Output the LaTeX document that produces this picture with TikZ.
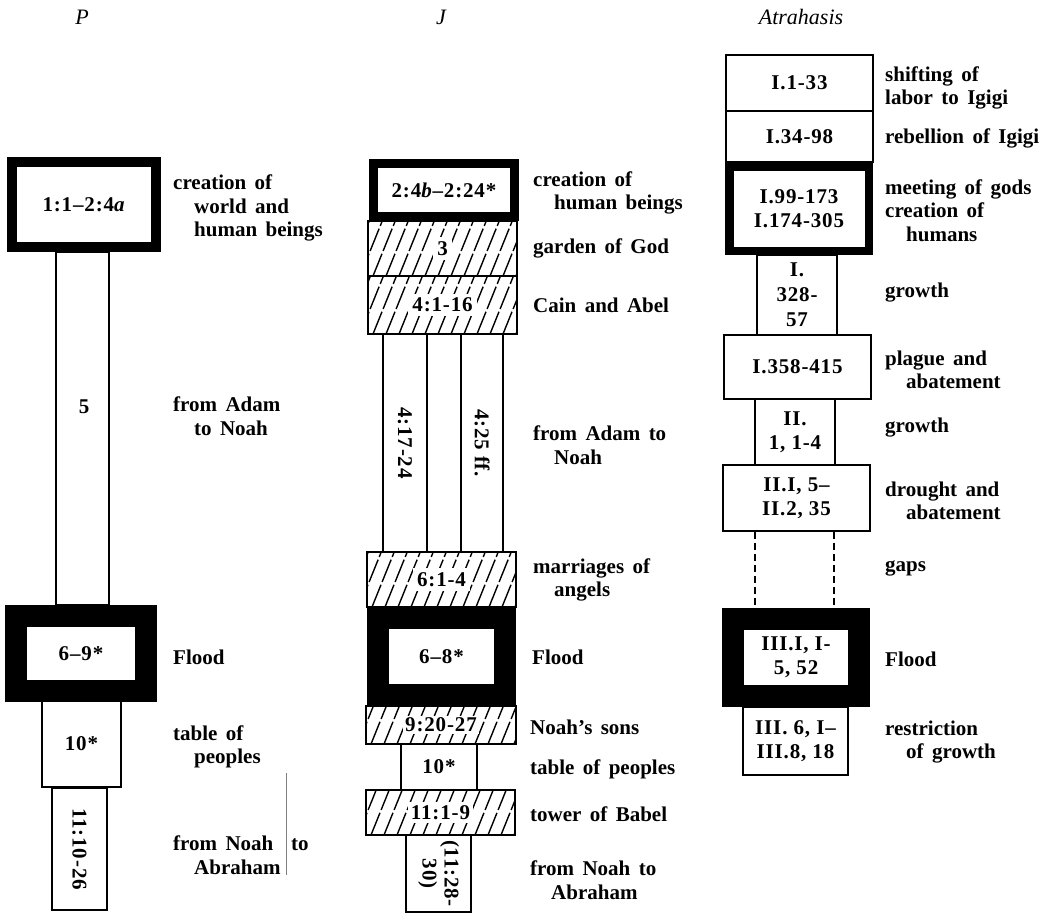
\documentclass[tikz,border=0pt]{standalone}
\usepackage{fontspec}
\usepackage{graphicx}
\setmainfont{Liberation Serif}
\newcommand\labfont{\fontsize{21}{23.5}\selectfont\bfseries\spaceskip=0.4em plus 0.1em minus 0.05em\relax}
\newcommand\boxfont{\fontsize{21}{24}\selectfont\bfseries\addfontfeatures{LetterSpace=4}}
\newcommand\hl{\hspace*{1.0em}}
\begin{document}
\begin{tikzpicture}[x=1pt,y=-1pt,
  lab/.style={anchor=west, align=left, font=\labfont, inner sep=0pt},
  plain/.style={draw, line width=1.6pt, fill=white, inner sep=0pt, font=\boxfont, align=center},
  frame/.style={draw, line width=#1, fill=white, inner sep=0pt, font=\boxfont, align=center},
  hatched/.style={plain, path picture={
      \foreach \k in {0,...,26}
        \draw[line width=1.4pt, dash pattern=on 24pt off 3pt]
          ([xshift={\k*13pt-60pt}]path picture bounding box.south west) -- ++(68:80pt);}},
  boxtext/.style={font=\boxfont, inner sep=0pt},
  titletext/.style={font=\fontsize{22}{24}\selectfont\itshape, inner sep=0pt},
  gapline/.style={line width=1.5pt, dash pattern=on 7pt off 4pt},
  stray/.style={line width=0.6pt, gray}]
\useasboundingbox (0,0) rectangle (1064,914);
\fboxsep=4pt

% titles
\node[titletext] (tP) at (82,17) {P};
\node[titletext] (tJ) at (441,17) {J};
\node[titletext] (tA) at (801,17) {Atrahasis};

% ---------------- P column ----------------
\node[plain, minimum width=53pt, minimum height=353pt] (p5) at (82.5,428.5) {};
\node[boxtext] (p5t) at (84,407) {5};
\node[frame=10pt, minimum width=144pt, minimum height=85pt] (p1) at (84,204.5) {1:1–2:4\textit{a}};
\node[plain, minimum width=55pt, minimum height=122pt] (p4) at (79.5,849) {\rotatebox{-90}{11:10-26}};
\node[plain, minimum width=79pt, minimum height=86pt] (p3) at (81.5,744) {10*};
\node[frame=22pt, minimum width=130pt, minimum height=75pt] (p2) at (81,653.5) {6–9*};
\draw[stray] (286,773) -- (286,875);

\node[lab] (lp1) at (173,208) {creation of\\\hl world and\\\hl human beings};
\node[lab] (lp2) at (173,416) {from Adam\\\hl to Noah};
\node[lab] (lp3) at (173,657) {Flood};
\node[lab] (lp4) at (173,747) {table of\\\hl peoples};
\node[lab] (lp5) at (173,855) {from Noah\hspace{0.85em}to\\\hl Abraham};

% ---------------- J column ----------------
\node[plain, minimum width=44pt, minimum height=218pt] (j4a) at (405,443) {\rotatebox{-90}{4:17-24}};
\node[plain, minimum width=42pt, minimum height=218pt] (j4b) at (482,443) {\rotatebox{-90}{4:25 ff.}};
\node[hatched, minimum width=149pt, minimum height=55pt] (j2) at (442.5,248.5) {\colorbox{white}{3}};
\node[hatched, minimum width=149pt, minimum height=58pt] (j3) at (442.5,305) {\colorbox{white}{4:1-16}};
\node[hatched, minimum width=149pt, minimum height=55pt] (j5) at (441.5,579.5) {\colorbox{white}{6:1-4}};
\node[hatched, minimum width=150pt, minimum height=38pt] (j7) at (441,725) {\fboxsep=2pt\colorbox{white}{9:20-27}};
\node[plain, minimum width=76pt, minimum height=46pt] (j8) at (439,767) {10*};
\node[hatched, minimum width=149pt, minimum height=45pt] (j9) at (440.5,812.5) {\fboxsep=3pt\colorbox{white}{11:1-9}};
\node[plain, minimum width=65pt, minimum height=77pt] (j10) at (438.5,873.5) {\rotatebox{-90}{\begin{tabular}{@{}c@{}}(11:28-\\[-2pt]30)\end{tabular}}};
\node[frame=9pt, minimum width=141pt, minimum height=53pt] (j1) at (444,190) {2:4\textit{b}–2:24*};
\node[frame=22pt, minimum width=127pt, minimum height=77pt] (j6) at (441.5,656.5) {6–8*};

\node[lab] (lj1) at (533,193) {creation of\\\hl human beings};
\node[lab] (lj2) at (533,248) {garden of God};
\node[lab] (lj3) at (533,305) {Cain and Abel};
\node[lab] (lj4) at (533,445) {from Adam to\\\hl Noah};
\node[lab] (lj5) at (533,580) {marriages of\\\hl angels};
\node[lab] (lj6) at (532,657) {Flood};
\node[lab] (lj7) at (530,727) {Noah's sons};
\node[lab] (lj8) at (530,769) {table of peoples};
\node[lab] (lj9) at (530,814) {tower of Babel};
\node[lab] (lj10) at (530,880) {from Noah to\\\hl Abraham};

% ---------------- Atrahasis column ----------------
\coordinate (gL) at (755,0);
\coordinate (gR) at (834,0);
\node[plain, minimum width=147pt, minimum height=56pt] (a1) at (799.5,83) {I.1-33};
\node[plain, minimum width=147pt, minimum height=51pt] (a2) at (799.5,136.5) {I.34-98};
\node[plain, minimum width=80pt, minimum height=80pt] (a4) at (797,295) {I.\\[1pt]328-\\[1pt]57};
\node[frame=8.5pt, minimum width=139.5pt, minimum height=84.5pt] (a3) at (799,208.5) {I.99-173\\I.174-305};
\node[plain, minimum width=147pt, minimum height=64pt] (a5) at (797.5,367) {I.358-415};
\node[plain, minimum width=80pt, minimum height=66pt] (a6) at (795,432) {II.\\1, 1-4};
\node[plain, minimum width=147pt, minimum height=66pt] (a7) at (796.5,498) {II.I, 5–\\II.2, 35};
\node[plain, minimum width=105pt, minimum height=68pt] (a9) at (795.5,741) {III. 6, I–\\III.8, 18};
\node[frame=22pt, minimum width=126pt, minimum height=77pt] (a8) at (796,657.5) {III.I, I-\\5, 52};
\draw[gapline] (a7.south -| gL) -- (a8.north -| gL);
\draw[gapline] (a7.south -| gR) -- (a8.north -| gR);

\node[lab] (la1) at (885,88) {shifting of\\labor to Igigi};
\node[lab] (la2) at (885,138) {rebellion of Igigi};
\node[lab] (la3) at (885,210.5) {meeting of gods\\creation of\\\hl humans};
\node[lab] (la4) at (885,293) {growth};
\node[lab] (la5) at (885,370) {plague and\\\hl abatement};
\node[lab] (la6) at (885,428) {growth};
\node[lab] (la7) at (885,501) {drought and\\\hl abatement};
\node[lab] (la8) at (885,568) {gaps};
\node[lab] (la9) at (885,659) {Flood};
\node[lab] (la10) at (885,742) {restriction\\\hl of growth};
\end{tikzpicture}
\end{document}
